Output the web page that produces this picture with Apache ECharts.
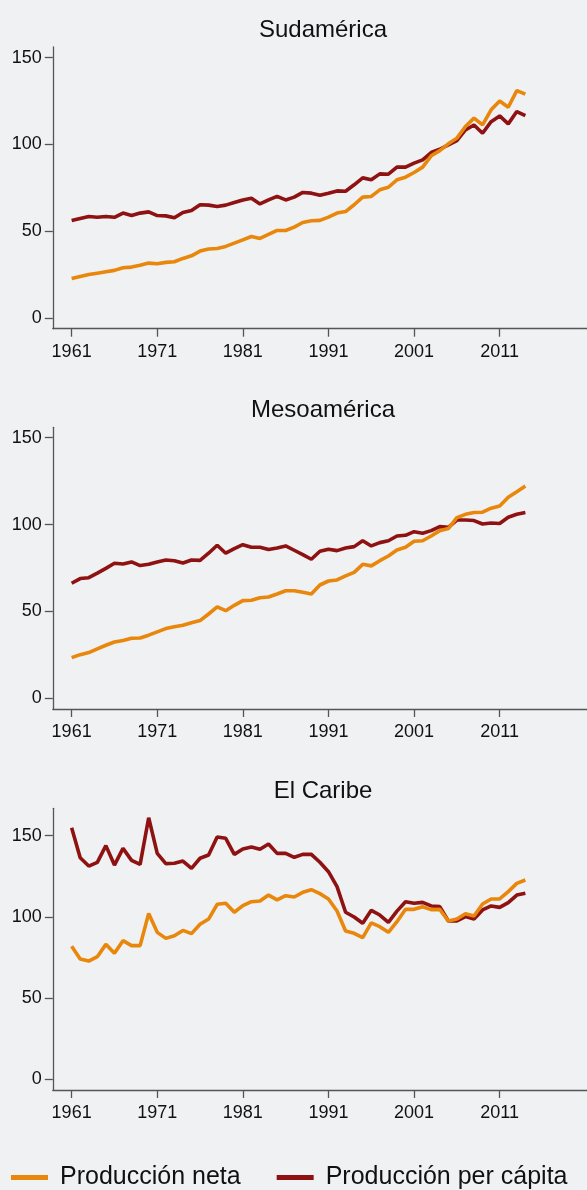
<!DOCTYPE html>
<html>
<head>
<meta charset="utf-8">
<script src="https://cdn.jsdelivr.net/npm/echarts@6/dist/echarts.min.js"></script>
<style>
  html, body { margin: 0; padding: 0; background: #f0f1f3; }
  #chart { width: 587px; height: 1190px; }
</style>
</head>
<body>
<div id="chart"></div>
<script>
// years 1961..2014
var startYear = 1961;
var xTicks = [1961, 1971, 1981, 1991, 2001, 2011];
var yTicks = [0, 50, 100, 150];

var panelTitles = ['Sudamérica', 'Mesoamérica', 'El Caribe'];
var seriesNames = ['Producción neta', 'Producción per cápita'];

var sudNeta = [22.7, 23.9, 25.0, 25.8, 26.6, 27.4, 28.9, 29.3, 30.4, 31.6,
  31.2, 32.0, 32.4, 34.3, 35.8, 38.5, 39.7, 40.0, 41.2, 43.1,
  45.0, 46.9, 45.8, 48.1, 50.4, 50.4, 52.3, 55.0, 56.0, 56.2,
  58.1, 60.4, 61.3, 65.2, 69.6, 70.0, 73.8, 75.3, 79.6, 81.1,
  83.8, 86.9, 93.4, 96.4, 100.3, 103.6, 110.3, 115.1, 111.2, 119.9,
  125.0, 121.4, 131.0, 128.9];
var sudCapita = [56.1, 57.3, 58.4, 58.0, 58.4, 58.0, 60.4, 59.0, 60.4, 61.1,
  59.0, 58.8, 57.7, 60.8, 61.9, 65.2, 65.0, 64.2, 65.0, 66.5,
  68.0, 69.0, 65.7, 68.0, 70.0, 68.0, 69.6, 72.3, 71.9, 70.7,
  71.9, 73.2, 73.0, 76.7, 80.7, 79.6, 83.0, 82.8, 86.9, 86.9,
  89.2, 91.1, 95.3, 97.2, 99.7, 102.2, 108.3, 111.2, 106.4, 113.1,
  116.4, 111.8, 118.9, 116.6];

var mesoNeta = [23.4, 25.1, 26.3, 28.4, 30.5, 32.4, 33.2, 34.5, 34.7, 36.3,
  38.2, 40.1, 41.2, 42.0, 43.5, 44.7, 48.5, 52.6, 50.4, 53.5,
  56.2, 56.4, 57.9, 58.3, 60.0, 61.9, 61.9, 61.0, 60.0, 65.2,
  67.5, 68.1, 70.4, 72.5, 77.1, 76.2, 79.2, 81.9, 85.4, 86.9,
  90.4, 90.7, 93.4, 96.5, 97.7, 104.0, 105.9, 106.9, 107.1, 109.4,
  110.7, 115.7, 118.9, 122.2];
var mesoCapita = [66.2, 68.9, 69.4, 72.0, 74.8, 77.7, 77.3, 78.5, 76.4, 77.1,
  78.5, 79.6, 79.2, 77.9, 79.6, 79.4, 83.5, 88.1, 83.5, 86.1,
  88.4, 86.9, 86.9, 85.6, 86.5, 87.7, 85.2, 82.7, 80.0, 84.6,
  85.8, 85.0, 86.5, 87.3, 90.7, 87.7, 89.6, 90.7, 93.4, 93.8,
  95.9, 95.0, 96.5, 98.8, 98.4, 102.6, 102.6, 102.3, 100.3, 100.9,
  100.6, 104.2, 105.9, 106.9];

var caribeNeta = [81.8, 74.0, 72.7, 75.4, 83.0, 77.5, 85.3, 82.2, 82.2, 102.1,
  90.4, 86.7, 88.3, 91.6, 89.6, 95.4, 98.6, 107.7, 108.3, 102.8,
  106.9, 109.3, 109.7, 113.4, 110.4, 113.0, 112.2, 115.1, 116.7, 114.3,
  111.0, 103.6, 91.2, 89.8, 87.1, 96.2, 93.9, 90.4, 97.0, 104.6,
  104.6, 106.2, 104.4, 104.6, 97.4, 98.6, 101.9, 100.5, 107.9, 111.0,
  111.0, 115.5, 120.6, 122.7];
var caribeCapita = [154.9, 136.4, 131.3, 133.6, 143.9, 131.9, 142.2, 134.8, 132.3, 161.1,
  139.1, 132.8, 133.0, 134.4, 129.9, 136.1, 138.1, 149.2, 148.4, 138.5,
  141.8, 143.0, 141.6, 144.9, 139.1, 139.1, 136.7, 138.5, 138.5, 133.6,
  127.8, 118.6, 102.8, 99.9, 96.0, 104.0, 101.1, 96.6, 103.5, 109.3,
  108.3, 108.9, 106.7, 106.3, 97.4, 97.4, 100.1, 98.6, 104.2, 106.7,
  105.8, 108.7, 113.4, 114.5];

var panelData = [
  [sudNeta, sudCapita],
  [mesoNeta, mesoCapita],
  [caribeNeta, caribeCapita]
];

// layout of the three panels
var gridTops = [47, 427.3, 808.3];
var yMins = [-6.2, -6.2, -6.8];
var yMaxs = [156.1, 156, 166.9];
var titleTops = [18, 398, 779];

var colors = ['#e8870b', '#8e1212'];
var fontFamily = '"Liberation Sans", Arial, sans-serif';
var axisColor = '#555';

function pairs(values) {
  return values.map(function (v, i) { return [startYear + i, v]; });
}

var grids = [], xAxes = [], yAxes = [], titles = [], series = [];

for (var p = 0; p < 3; p++) {
  grids.push({ left: 52.8, top: gridTops[p], width: 540, height: 281.7 });
  titles.push({
    text: panelTitles[p],
    left: 323,
    top: titleTops[p],
    textAlign: 'center',
    padding: 0,
    textStyle: { fontFamily: fontFamily, fontSize: 24, fontWeight: 'normal', color: '#111' }
  });
  xAxes.push({
    type: 'value',
    gridIndex: p,
    min: 1958.8,
    max: 2021.2,
    axisLine: { show: true, onZero: false, lineStyle: { color: axisColor, width: 1.3 } },
    axisTick: { show: true, length: 8, customValues: xTicks, lineStyle: { color: axisColor, width: 1.3 } },
    axisLabel: {
      customValues: xTicks, margin: 14, fontSize: 18, fontFamily: fontFamily, color: '#111',
      formatter: function (v) { return String(v); }
    },
    splitLine: { show: false }
  });
  yAxes.push({
    type: 'value',
    gridIndex: p,
    min: yMins[p],
    max: yMaxs[p],
    axisLine: { show: true, onZero: false, lineStyle: { color: axisColor, width: 1.3 } },
    axisTick: { show: true, length: 8, customValues: yTicks, lineStyle: { color: axisColor, width: 1.3 } },
    axisLabel: { customValues: yTicks, margin: 11, fontSize: 18, fontFamily: fontFamily, color: '#111' },
    splitLine: { show: false }
  });
  for (var s = 0; s < 2; s++) {
    series.push({
      name: seriesNames[s],
      type: 'line',
      xAxisIndex: p,
      yAxisIndex: p,
      data: pairs(panelData[p][s]),
      symbol: 'none',
      smooth: false,
      z: s === 0 ? 3 : 2,
      lineStyle: { color: colors[s], width: 3.6 },
      itemStyle: { color: colors[s] }
    });
  }
}

var chart = echarts.init(document.getElementById('chart'), null, { renderer: 'canvas' });
chart.setOption({
  backgroundColor: '#f0f1f3',
  animation: false,
  title: titles,
  grid: grids,
  xAxis: xAxes,
  yAxis: yAxes,
  legend: {
    data: seriesNames,
    left: 11,
    top: 1165,
    icon: 'rect',
    itemWidth: 37,
    itemHeight: 5,
    itemGap: 36,
    padding: 0,
    selectedMode: false,
    textStyle: { fontFamily: fontFamily, fontSize: 25, color: '#111', padding: [0, 0, 0, 7] }
  },
  series: series
});
</script>
</body>
</html>
